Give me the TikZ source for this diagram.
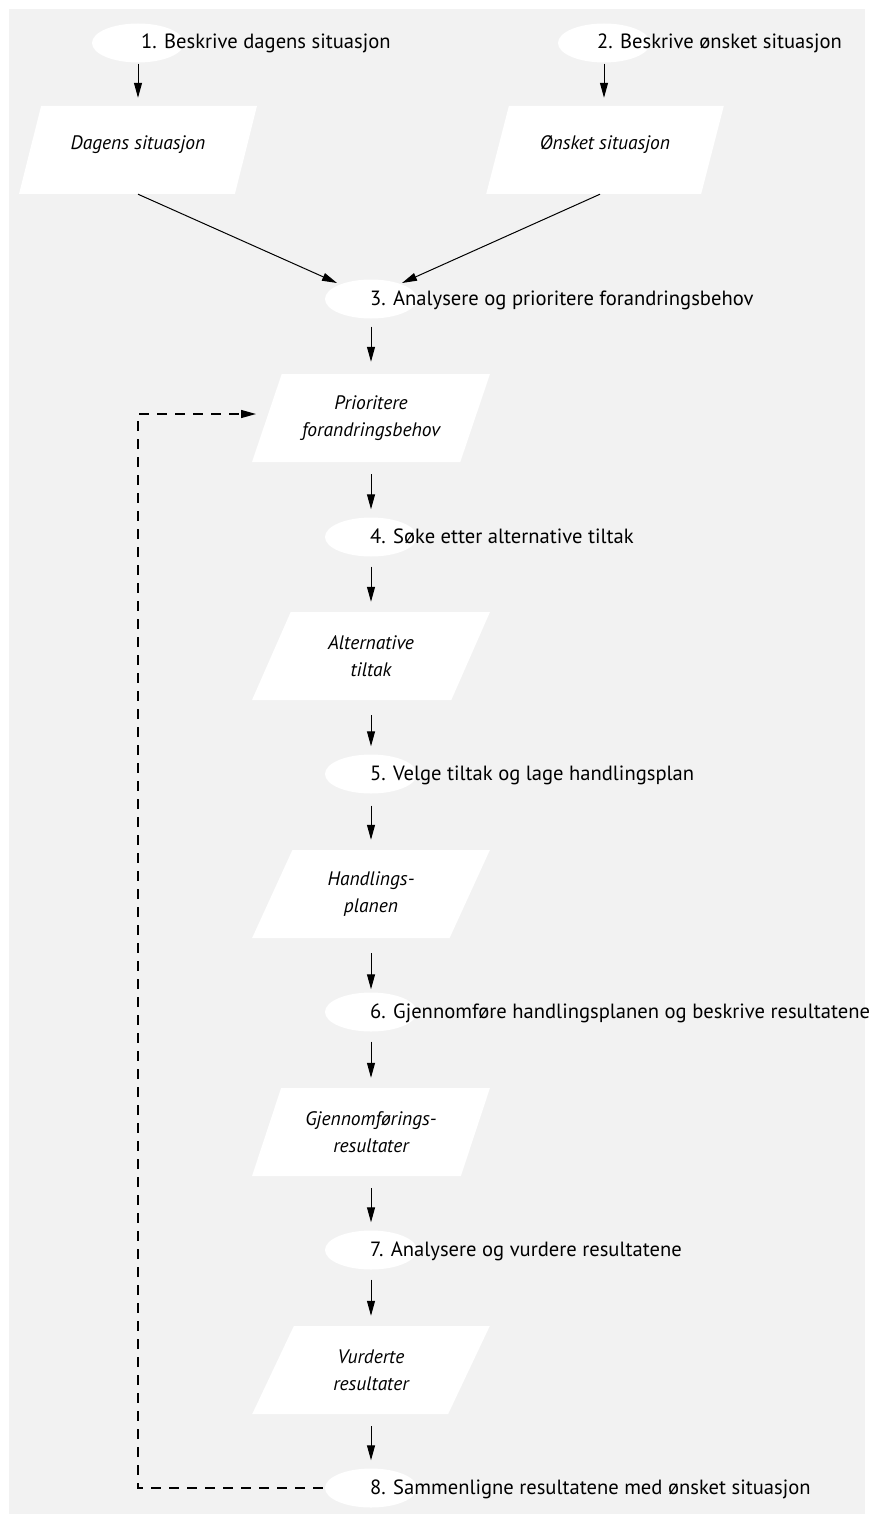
\documentclass[tikz,border=0pt]{standalone}
\usepackage{fontspec}
\setmainfont{PT Sans}
\usetikzlibrary{shapes.geometric,arrows.meta,calc}
\definecolor{bg}{HTML}{F2F2F2}
\tikzset{
  stepell/.style={ellipse,fill=white,draw=none,minimum width=92pt,minimum height=39pt,inner sep=0pt},
  steptext/.style={anchor=base west,inner sep=0pt,font=\fontsize{20.6}{24}\selectfont},
  databox/.style={trapezium,trapezium left angle=65,trapezium right angle=115,trapezium stretches=true,
    minimum width=238pt,minimum height=88pt,fill=white,draw=none,align=center,
    font=\itshape\fontsize{19.5}{27}\selectfont},
  arr/.style={-{Triangle[length=15pt,width=8pt]},line width=1pt,black},
  loop/.style={-{Triangle[length=15pt,width=8pt]},line width=1.3pt,dash pattern=on 10pt off 8pt}
}
\begin{document}
\begin{tikzpicture}[x=1pt,y=-1pt]
\useasboundingbox (0,0) rectangle (870,1522);
\fill[white] (0,0) rectangle (870,1522);
\fill[bg] (9,9) rectangle (865,1514);
% ellipses
\node[stepell] (e1) at (138,43) {};
\node[stepell] (e2) at (604,43) {};
\node[stepell] (e3) at (371,299) {};
\node[stepell] (e4) at (371,537) {};
\node[stepell] (e5) at (371,774) {};
\node[stepell] (e6) at (371,1012) {};
\node[stepell] (e7) at (371,1250) {};
\node[stepell] (e8) at (371,1488) {};
\node[steptext] (t1) at (141,49) {1. Beskrive dagens situasjon};
\node[steptext] (t2) at (597,49) {2. Beskrive ønsket situasjon};
\node[steptext] (t3) at (370,305) {3. Analysere og prioritere forandringsbehov};
\node[steptext] (t4) at (370,543) {4. Søke etter alternative tiltak};
\node[steptext] (t5) at (370,780) {5. Velge tiltak og lage handlingsplan};
\node[steptext] (t6) at (370,1018) {6. Gjennomføre handlingsplanen og beskrive resultatene};
\node[steptext] (t7) at (370,1256) {7. Analysere og vurdere resultatene};
\node[steptext] (t8) at (370,1494) {8. Sammenligne resultatene med ønsket situasjon};
% data boxes
\node[databox] (p1) at (138,150) {Dagens situasjon\\[-13pt]\mbox{}};
\node[databox] (p2) at (605,150) {Ønsket situasjon\\[-13pt]\mbox{}};
\node[databox] (p3) at (371,418) {Prioritere\\forandringsbehov};
\node[databox] (p4) at (371,656) {Alternative\\tiltak};
\node[databox] (p5) at (371,894) {Handlings-\\planen};
\node[databox] (p6) at (371,1132) {Gjennomførings-\\resultater};
\node[databox] (p7) at (371,1370) {Vurderte\\resultater};
% connectors
\draw[arr] ([yshift=-1pt]e1.south) -- ([yshift=8pt]e1.south |- p1.north);
\draw[arr] ([yshift=-1pt]e2.south) -- ([yshift=8pt]e2.south |- p2.north);
\coordinate (a3l) at (337,283);
\coordinate (a3r) at (402,283);
\draw[arr] (p1.south) -- (a3l);
\draw[arr] ([xshift=-5pt]p2.south) -- (a3r);
\draw[arr] ([yshift=-8pt]e3.south) -- ([yshift=12pt]e3.south |- p3.north);
\draw[arr] ([yshift=-12pt]p3.south) -- ([yshift=8pt]p3.south |- e4.north);
\draw[arr] ([yshift=-10pt]e4.south) -- ([yshift=10pt]e4.south |- p4.north);
\draw[arr] ([yshift=-15pt]p4.south) -- ([yshift=8pt]p4.south |- e5.north);
\draw[arr] ([yshift=-12pt]e5.south) -- ([yshift=10pt]e5.south |- p5.north);
\draw[arr] ([yshift=-15pt]p5.south) -- ([yshift=3pt]p5.south |- e6.north);
\draw[arr] ([yshift=-10pt]e6.south) -- ([yshift=10pt]e6.south |- p6.north);
\draw[arr] ([yshift=-12pt]p6.south) -- ([yshift=8pt]p6.south |- e7.north);
\draw[arr] ([yshift=-10pt]e7.south) -- ([yshift=10pt]e7.south |- p7.north);
\draw[arr] ([yshift=-12pt]p7.south) -- ([yshift=8pt]p7.south |- e8.north);
\coordinate (lb) at (138,1488);
\coordinate (lt) at (138,414);
\coordinate (lend) at (256,414);
\draw[loop] ([xshift=-2pt]e8.west) -- (lb) -- (lt) -- (lend);
\end{tikzpicture}
\end{document}
